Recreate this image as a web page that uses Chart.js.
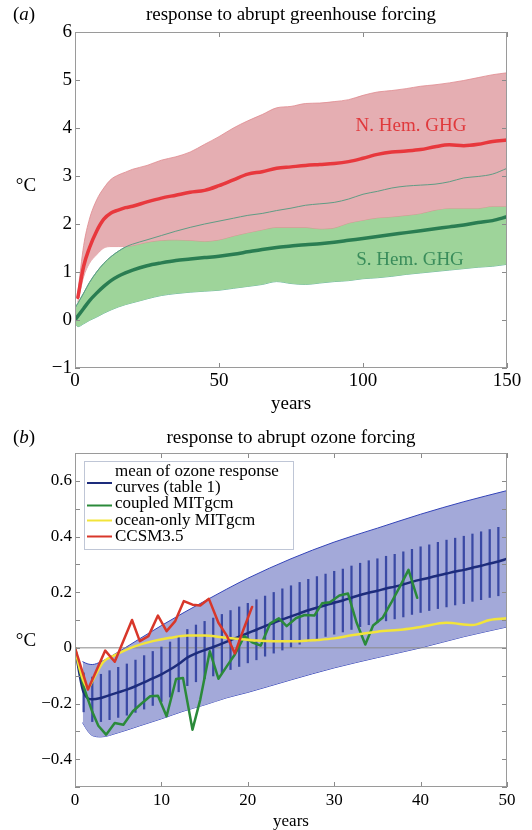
<!DOCTYPE html>
<html><head><meta charset="utf-8">
<script src="https://cdn.jsdelivr.net/npm/chart.js@4/dist/chart.umd.min.js"></script>
<style>
html,body{margin:0;padding:0;background:#fff;}
#wrap{position:relative;width:532px;height:830px;overflow:hidden;}
#ca{position:absolute;left:0;top:0;}
#cb{position:absolute;left:0;top:415px;}
</style></head><body>
<div id="wrap"><canvas id="ca" width="532" height="415"></canvas><canvas id="cb" width="532" height="415"></canvas></div>
<script>
// ---------- Panel (a) data ----------
const yearsA = [0,1,3,5,7.5,10,12.5,15,17.5,20,25,30,35,40,45,50,55,60,65,70,75,80,85,90,95,100,105,110,115,120,125,130,135,140,145,150];
const nhMean  = [null,0.47,1.12,1.50,1.85,2.10,2.23,2.29,2.34,2.37,2.46,2.54,2.60,2.66,2.70,2.80,2.92,3.04,3.09,3.16,3.19,3.22,3.24,3.26,3.30,3.37,3.45,3.50,3.52,3.55,3.61,3.65,3.63,3.66,3.72,3.75];
const nhUpper = [null,0.58,1.55,2.10,2.50,2.75,2.93,3.02,3.08,3.14,3.22,3.33,3.40,3.50,3.66,3.82,4.00,4.15,4.28,4.42,4.45,4.51,4.52,4.55,4.59,4.68,4.75,4.78,4.82,4.87,4.90,4.94,4.99,5.05,5.11,5.15];
const nhLower = [null,0.38,0.90,1.18,1.36,1.50,1.53,1.53,1.53,1.55,1.62,1.66,1.67,1.66,1.64,1.67,1.75,1.82,1.88,1.93,1.93,1.93,1.90,1.92,2.02,2.08,2.13,2.15,2.18,2.22,2.29,2.33,2.33,2.33,2.37,2.37];
const shMean  = [0.00,0.08,0.24,0.40,0.56,0.70,0.82,0.91,0.98,1.04,1.13,1.19,1.24,1.27,1.30,1.33,1.37,1.42,1.47,1.51,1.54,1.57,1.59,1.62,1.66,1.70,1.74,1.78,1.82,1.86,1.90,1.94,1.98,2.03,2.07,2.15];
const shUpper = [0.25,0.35,0.56,0.78,1.00,1.18,1.32,1.43,1.52,1.58,1.67,1.76,1.85,1.93,2.00,2.06,2.12,2.18,2.22,2.28,2.33,2.39,2.42,2.45,2.52,2.62,2.68,2.75,2.79,2.81,2.83,2.88,2.96,2.99,3.04,3.16];
const shLower = [-0.05,-0.14,-0.08,-0.01,0.06,0.14,0.21,0.27,0.32,0.36,0.44,0.51,0.55,0.58,0.60,0.62,0.66,0.70,0.74,0.80,0.76,0.74,0.77,0.80,0.82,0.86,0.88,0.91,0.95,0.98,1.01,1.04,1.07,1.10,1.12,1.16];

// ---------- Panel (b) data ----------
const bandYears = [0.9,1.5,2,3,5,7.5,10,12.5,15,17.5,20,25,30,35,40,45,50];
const bandUpper = [-0.05,-0.058,-0.06,-0.05,-0.015,0.033,0.08,0.125,0.168,0.21,0.25,0.32,0.38,0.43,0.48,0.525,0.565];
const bandLower = [-0.27,-0.30,-0.315,-0.32,-0.305,-0.28,-0.255,-0.228,-0.205,-0.18,-0.16,-0.115,-0.072,-0.035,0.0,0.04,0.075];
const meanYears = [0,1,2,3,4,5,6,7,8,9,10,11,12,13,14,15,16,17,18,19,20,21,22,23,24,25,26,27,28,29,30,31,32,33,34,35,36,37,38,39,40,41,42,43,44,45,46,47,48,49,50];
const meanOzone = [0,-0.16,-0.185,-0.18,-0.17,-0.16,-0.15,-0.138,-0.124,-0.11,-0.095,-0.078,-0.058,-0.035,-0.02,-0.008,0.003,0.015,0.028,0.04,0.053,0.065,0.078,0.09,0.102,0.113,0.124,0.135,0.144,0.153,0.162,0.17,0.18,0.19,0.198,0.205,0.213,0.22,0.228,0.237,0.245,0.252,0.26,0.267,0.274,0.28,0.288,0.295,0.303,0.31,0.32];
const barYears = [1,2,3,4,5,6,7,8,9,10,11,12,13,14,15,16,17,18,19,20,21,22,23,24,25,26,27,28,29,30,31,32,33,34,35,36,37,38,39,40,41,42,43,44,45,46,47,48,49];
const barLow  = [-0.23,-0.265,-0.265,-0.258,-0.25,-0.242,-0.232,-0.22,-0.207,-0.193,-0.177,-0.158,-0.136,-0.122,-0.111,-0.101,-0.09,-0.078,-0.067,-0.054,-0.043,-0.03,-0.019,-0.008,0.003,0.013,0.024,0.032,0.041,0.049,0.057,0.066,0.076,0.083,0.09,0.097,0.104,0.111,0.12,0.127,0.134,0.141,0.147,0.154,0.159,0.167,0.173,0.181,0.187];
const barHigh = [-0.09,-0.105,-0.095,-0.082,-0.07,-0.058,-0.044,-0.028,-0.013,0.003,0.021,0.042,0.066,0.082,0.095,0.107,0.12,0.134,0.147,0.16,0.173,0.186,0.199,0.212,0.223,0.235,0.246,0.256,0.265,0.275,0.283,0.294,0.304,0.313,0.32,0.329,0.336,0.345,0.354,0.363,0.37,0.379,0.387,0.394,0.401,0.409,0.417,0.425,0.433];
const cplYears = [0,1,2,2.7,3.6,4.6,5.6,6.7,7.7,8.7,9.6,10.6,11.7,12.5,13.6,14.5,15.6,16.6,17.6,18.5,19.6,20.5,21.5,22.6,23.6,24.5,25.6,26.6,27.7,28.6,29.5,30.6,31.6,32.6,33.6,34.5,35.6,36.6,37.6,38.6,39.6];
const cplVals  = [0,-0.14,-0.23,-0.28,-0.312,-0.27,-0.276,-0.228,-0.2,-0.174,-0.172,-0.246,-0.112,-0.108,-0.294,-0.186,-0.012,-0.111,-0.065,-0.024,0.042,0.02,0.008,0.088,0.106,0.078,0.107,0.118,0.116,0.16,0.164,0.188,0.195,0.09,0.012,0.08,0.108,0.162,0.22,0.28,0.18];
const oceanYears = [0,0.5,1,1.5,2,2.5,3.3,4.4,5.6,7,9,11,13,15,17,19,21,23,26,28,30,32,35,38,40,43,46,48,50];
const oceanVals  = [0,-0.07,-0.12,-0.145,-0.12,-0.09,-0.05,-0.03,-0.012,0.006,0.024,0.036,0.044,0.044,0.038,0.032,0.026,0.024,0.024,0.028,0.034,0.045,0.058,0.066,0.075,0.09,0.082,0.1,0.106];
const ccsmYears = [0,1.5,3.5,4.6,6.6,7.5,8.5,9.6,10.6,11.6,12.6,13.6,14.5,15.5,16.6,17.6,18.5,19.5,20.5];
const ccsmVals  = [0,-0.15,-0.01,-0.05,0.10,0.024,0.042,0.116,0.06,0.096,0.168,0.155,0.152,0.176,0.09,0.042,-0.02,0.066,0.147];

const legendLabels = [["mean of ozone response","curves (table 1)"],["coupled MITgcm"],["ocean-only MITgcm"],["CCSM3.5"]];

// ---------- helpers ----------
const SERIF = '"Liberation Serif","Times New Roman",serif';
const pts = (xs, ys) => xs.map((x, i) => ({x: x, y: ys[i]}));
const minus = v => { const r = Math.round(v * 10) / 10; if (Math.abs(r) < 1e-9) return '0'; return (r < 0 ? '\u2212' : '') + String(Math.abs(r)); };

function panelLabel(ctx, letter, x, y, size) {
  ctx.textBaseline = 'middle'; ctx.textAlign = 'left'; ctx.fillStyle = '#000';
  ctx.font = size + 'px ' + SERIF;
  ctx.fillText('(', x, y);
  let w = ctx.measureText('(').width;
  ctx.font = 'italic ' + size + 'px ' + SERIF;
  ctx.fillText(letter, x + w, y);
  w += ctx.measureText(letter).width;
  ctx.font = size + 'px ' + SERIF;
  ctx.fillText(')', x + w, y);
}

const deco = {
  id: 'deco',
  afterDatasetsDraw(chart, args, o) {
    const ctx = chart.ctx, a = chart.chartArea;
    const xs = chart.scales.x, ys = chart.scales.y;
    ctx.save();
    // inner tick marks
    ctx.strokeStyle = '#8a8a8a'; ctx.lineWidth = 1;
    const L = 5;
    ctx.beginPath();
    xs.ticks.forEach(t => {
      const p = Math.round(xs.getPixelForValue(t.value)) + 0.5;
      ctx.moveTo(p, a.bottom); ctx.lineTo(p, a.bottom - L);
      ctx.moveTo(p, a.top); ctx.lineTo(p, a.top + L);
    });
    ys.ticks.forEach(t => {
      const p = Math.round(ys.getPixelForValue(t.value)) + 0.5;
      ctx.moveTo(a.left, p); ctx.lineTo(a.left + L, p);
      ctx.moveTo(a.right, p); ctx.lineTo(a.right - L, p);
    });
    ctx.stroke();
    // frame
    ctx.strokeStyle = '#9a9a9a';
    ctx.strokeRect(Math.round(a.left) + 0.5, Math.round(a.top) + 0.5, Math.round(a.right - a.left) - 1, Math.round(a.bottom - a.top) - 1);
    // title
    ctx.fillStyle = '#000'; ctx.textAlign = 'center'; ctx.textBaseline = 'middle';
    ctx.font = o.titleSize + 'px ' + SERIF;
    ctx.fillText(o.title, (a.left + a.right) / 2, o.titleY);
    panelLabel(ctx, o.letter, 13, o.titleY, o.titleSize);
    // degree label
    ctx.font = o.titleSize + 'px ' + SERIF; ctx.textAlign = 'center';
    ctx.fillText('\u00B0C', 26, o.degY);
    // annotations
    (o.notes || []).forEach(n => {
      ctx.fillStyle = n.color; ctx.font = n.size + 'px ' + SERIF; ctx.textAlign = 'center';
      ctx.fillText(n.text, n.x, n.y);
    });
    // legend
    if (o.legend) {
      const g = o.legend;
      ctx.fillStyle = '#fff';
      ctx.fillRect(g.x0, g.y0, g.x1 - g.x0, g.y1 - g.y0);
      ctx.strokeStyle = '#bfc6d6'; ctx.lineWidth = 1;
      ctx.strokeRect(g.x0 + 0.5, g.y0 + 0.5, g.x1 - g.x0, g.y1 - g.y0);
      ctx.font = g.size + 'px ' + SERIF; ctx.textAlign = 'left'; ctx.fillStyle = '#000';
      g.items.forEach((it, i) => {
        ctx.strokeStyle = it.color; ctx.lineWidth = 2;
        ctx.beginPath(); ctx.moveTo(g.sx0, it.sy); ctx.lineTo(g.sx1, it.sy); ctx.stroke();
        ctx.fillStyle = '#000';
        legendLabels[i].forEach((line, j) => ctx.fillText(line, g.tx, it.ty[j]));
      });
    }
    ctx.restore();
  }
};

function baseOpts(cfg) {
  return {
    responsive: false, animation: false, events: [],
    layout: { padding: { top: cfg.padTop, right: 25, left: 0, bottom: 0 } },
    plugins: { legend: { display: false }, tooltip: { enabled: false }, deco: cfg.deco },
    scales: {
      x: {
        type: 'linear', min: cfg.xmin, max: cfg.xmax, offset: false,
        grid: { display: false, drawTicks: false }, border: { display: false },
        ticks: { stepSize: cfg.xstep, color: '#000', font: { family: SERIF, size: cfg.tickSize }, padding: cfg.xPad, maxRotation: 0, autoSkip: false, callback: v => minus(v) },
        title: { display: true, text: 'years', color: '#000', font: { family: SERIF, size: cfg.tickSize, lineHeight: cfg.titleLH }, padding: { top: 0, bottom: cfg.titlePadB } },
        afterFit: s => { s.height = cfg.xAxisH; }
      },
      y: {
        type: 'linear', min: cfg.ymin, max: cfg.ymax,
        grid: { display: false, drawTicks: false }, border: { display: false },
        ticks: { stepSize: cfg.ystep, color: '#000', font: { family: SERIF, size: cfg.tickSize }, padding: 3, autoSkip: false, callback: cfg.yLabel },
        afterFit: s => { s.width = 75; }
      }
    }
  };
}

const lineDs = (data, color, width, order, extra) => Object.assign({
  type: 'line', data: data, borderColor: color, borderWidth: width, pointRadius: 0,
  fill: false, order: order, cubicInterpolationMode: 'monotone', borderJoinStyle: 'round', borderCapStyle: 'round'
}, extra || {});

// ---------- Chart (a) ----------
new Chart(document.getElementById('ca'), {
  type: 'line',
  data: { datasets: [
    lineDs(pts(yearsA, shLower), '#4fa88d', 0.8, 20),
    lineDs(pts(yearsA, shUpper), '#4fa88d', 0.8, 19, { fill: 0, backgroundColor: '#9ed49a' }),
    lineDs(pts(yearsA, nhLower), '#df8a8f', 0.8, 18),
    lineDs(pts(yearsA, nhUpper), '#df8a8f', 0.8, 17, { fill: 2, backgroundColor: '#e5aeb2' }),
    lineDs(pts(yearsA, shUpper), '#5f9c84', 1, 10),
    lineDs(pts(yearsA, nhMean), '#e8383d', 3.5, 2),
    lineDs(pts(yearsA, shMean), '#2a7d52', 3.5, 1)
  ]},
  options: baseOpts({
    padTop: 32, xmin: 0, xmax: 150, xstep: 50, ymin: -1, ymax: 6, ystep: 1, tickSize: 19,
    xPad: 2, titlePadB: 0, titleLH: 1.2, xAxisH: 47,
    yLabel: v => minus(v),
    deco: {
      title: 'response to abrupt greenhouse forcing', titleY: 15, titleSize: 19, letter: 'a', degY: 186,
      notes: [
        { text: 'N. Hem. GHG', x: 411, y: 126, color: '#e0393c', size: 19 },
        { text: 'S. Hem. GHG', x: 410, y: 260, color: '#3a8d5b', size: 19 }
      ]
    }
  }),
  plugins: [deco]
});

// ---------- Chart (b) ----------
new Chart(document.getElementById('cb'), {
  type: 'line',
  data: { datasets: [
    lineDs(pts(bandYears, bandLower), '#3444b8', 1, 20),
    lineDs(pts(bandYears, bandUpper), '#3444b8', 1, 19, { fill: 0, backgroundColor: '#a3a9d9' }),
    lineDs([{x: 0, y: 0}, {x: 50, y: 0}], '#8a8a8a', 1, 15, { cubicInterpolationMode: 'default', tension: 0 }),
    { type: 'bar', data: barYears.map((x, i) => ({ x: x, y: [barLow[i], barHigh[i]] })), backgroundColor: '#3a49a4', borderWidth: 0, barThickness: 1.6, grouped: false, order: 10 },
    lineDs(pts(meanYears, meanOzone), '#1d2c7c', 2.5, 5),
    lineDs(pts(cplYears, cplVals), '#2b8a3a', 2.5, 4, { cubicInterpolationMode: 'default', tension: 0 }),
    lineDs(pts(oceanYears, oceanVals), '#f2e43a', 2.5, 3),
    lineDs(pts(ccsmYears, ccsmVals), '#d8372a', 2.5, 2, { cubicInterpolationMode: 'default', tension: 0 })
  ]},
  options: baseOpts({
    padTop: 38, xmin: 0, xmax: 50, xstep: 10, ymin: -0.5, ymax: 0.7, ystep: 0.1, tickSize: 17,
    xPad: 3, titlePadB: 0, titleLH: 1.0, xAxisH: 43,
    yLabel: v => (Math.abs(Math.round(v * 10)) % 2 === 0 ? minus(v) : ''),
    deco: {
      title: 'response to abrupt ozone forcing', titleY: 23, titleSize: 19, letter: 'b', degY: 226,
      legend: {
        x0: 84, y0: 46, x1: 293, y1: 134, size: 17, sx0: 87, sx1: 112, tx: 115,
        items: [
          { color: '#1d2c7c', sy: 68, ty: [57, 73] },
          { color: '#2b8a3a', sy: 90.5, ty: [89] },
          { color: '#f2e43a', sy: 105.5, ty: [106] },
          { color: '#d8372a', sy: 121.5, ty: [122] }
        ]
      }
    }
  }),
  plugins: [deco]
});
</script>
</body></html>
